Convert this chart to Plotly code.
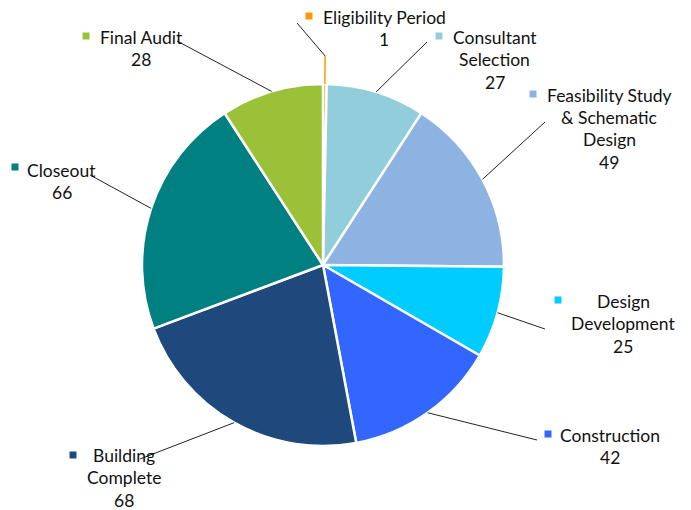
import math
import plotly.graph_objects as go

# ---- data ----
phases = ["Eligibility Period", "Consultant Selection", "Feasibility Study & Schematic Design",
          "Design Development", "Construction", "Building Complete", "Closeout", "Final Audit"]
days = [1, 27, 49, 25, 42, 68, 66, 28]
colors = ["#FF9900", "#92CDDC", "#8DB3E2", "#00CCFF", "#3366FF", "#1F497D", "#008080", "#9BC139"]
label_lines = [["Eligibility Period"], ["Consultant", "Selection"],
               ["Feasibility Study", "& Schematic", "Design"], ["Design", "Development"],
               ["Construction"], ["Building", "Complete"], ["Closeout"], ["Final Audit"]]

# ---- layout (pixels, in the screenshot frame) ----
W, H = 691, 510
OFF = 8  # page body margin
CX, CY, R = 323, 265, 181
# text block center x, first line y, marker position, leader end point
label_layout = [
    dict(tx=384, ty=17, mx=309, my=16, lx=297, ly=23),
    dict(tx=495, ty=37, mx=439, my=36, lx=427, ly=42),
    dict(tx=609, ty=95, mx=533, my=94, lx=545, ly=122),
    dict(tx=623, ty=301, mx=558, my=300, lx=545, ly=329),
    dict(tx=610, ty=435, mx=548, my=434, lx=537, ly=440),
    dict(tx=124, ty=455, mx=73, my=455, lx=140, ly=459),
    dict(tx=62, ty=170, mx=15, my=167, lx=90, ly=175),
    dict(tx=141, ty=37, mx=86, my=36, lx=177, ly=41),
]
LINE_H = 22.5


def px(x):
    return (x - OFF) / W


def py(y):
    return 1 - (y - OFF) / H


fig = go.Figure(go.Pie(
    labels=phases, values=days, sort=False, direction="clockwise", rotation=0,
    marker=dict(colors=colors, line=dict(color="white", width=2.5)),
    textinfo="none", hoverinfo="label+value", showlegend=False,
    domain=dict(x=[px(CX - R), px(CX + R)], y=[py(CY + R), py(CY - R)]),
))

shapes, annotations = [], []
total = sum(days)
cum = 0
FONT = dict(family="Lato, Calibri, sans-serif", size=17.5, color="#111111")
for i, v in enumerate(days):
    mid = (cum + v / 2) / total * 2 * math.pi
    cum += v
    ex, ey = CX + R * math.sin(mid), CY - R * math.cos(mid)
    L = label_layout[i]
    if i == 0:
        R2 = R + 28
        bx, by = CX + R2 * math.sin(mid), CY - R2 * math.cos(mid)
        shapes.append(dict(type="line", xref="paper", yref="paper", x0=px(ex), y0=py(ey),
                           x1=px(bx), y1=py(by), line=dict(color=colors[0], width=1.5)))
        shapes.append(dict(type="line", xref="paper", yref="paper", x0=px(bx), y0=py(by),
                           x1=px(L["lx"]), y1=py(L["ly"]), line=dict(color="#222", width=1)))
    else:
        shapes.append(dict(type="line", xref="paper", yref="paper", x0=px(ex), y0=py(ey),
                           x1=px(L["lx"]), y1=py(L["ly"]), line=dict(color="#222", width=1)))
    # marker square
    shapes.append(dict(type="rect", xref="paper", yref="paper", x0=px(L["mx"] - 3.5), x1=px(L["mx"] + 3.5),
                       y0=py(L["my"] + 3.5), y1=py(L["my"] - 3.5), fillcolor=colors[i], line=dict(width=0)))
    lines = label_lines[i] + [str(v)]
    for j, t in enumerate(lines):
        annotations.append(dict(text=t, xref="paper", yref="paper", x=px(L["tx"]), y=py(L["ty"] + j * LINE_H),
                                xanchor="center", yanchor="middle", showarrow=False, font=FONT))

fig.update_layout(width=W, height=H, margin=dict(l=0, r=0, t=0, b=0),
                  paper_bgcolor="white", plot_bgcolor="white",
                  shapes=shapes, annotations=annotations)
fig.write_html("out.html")
